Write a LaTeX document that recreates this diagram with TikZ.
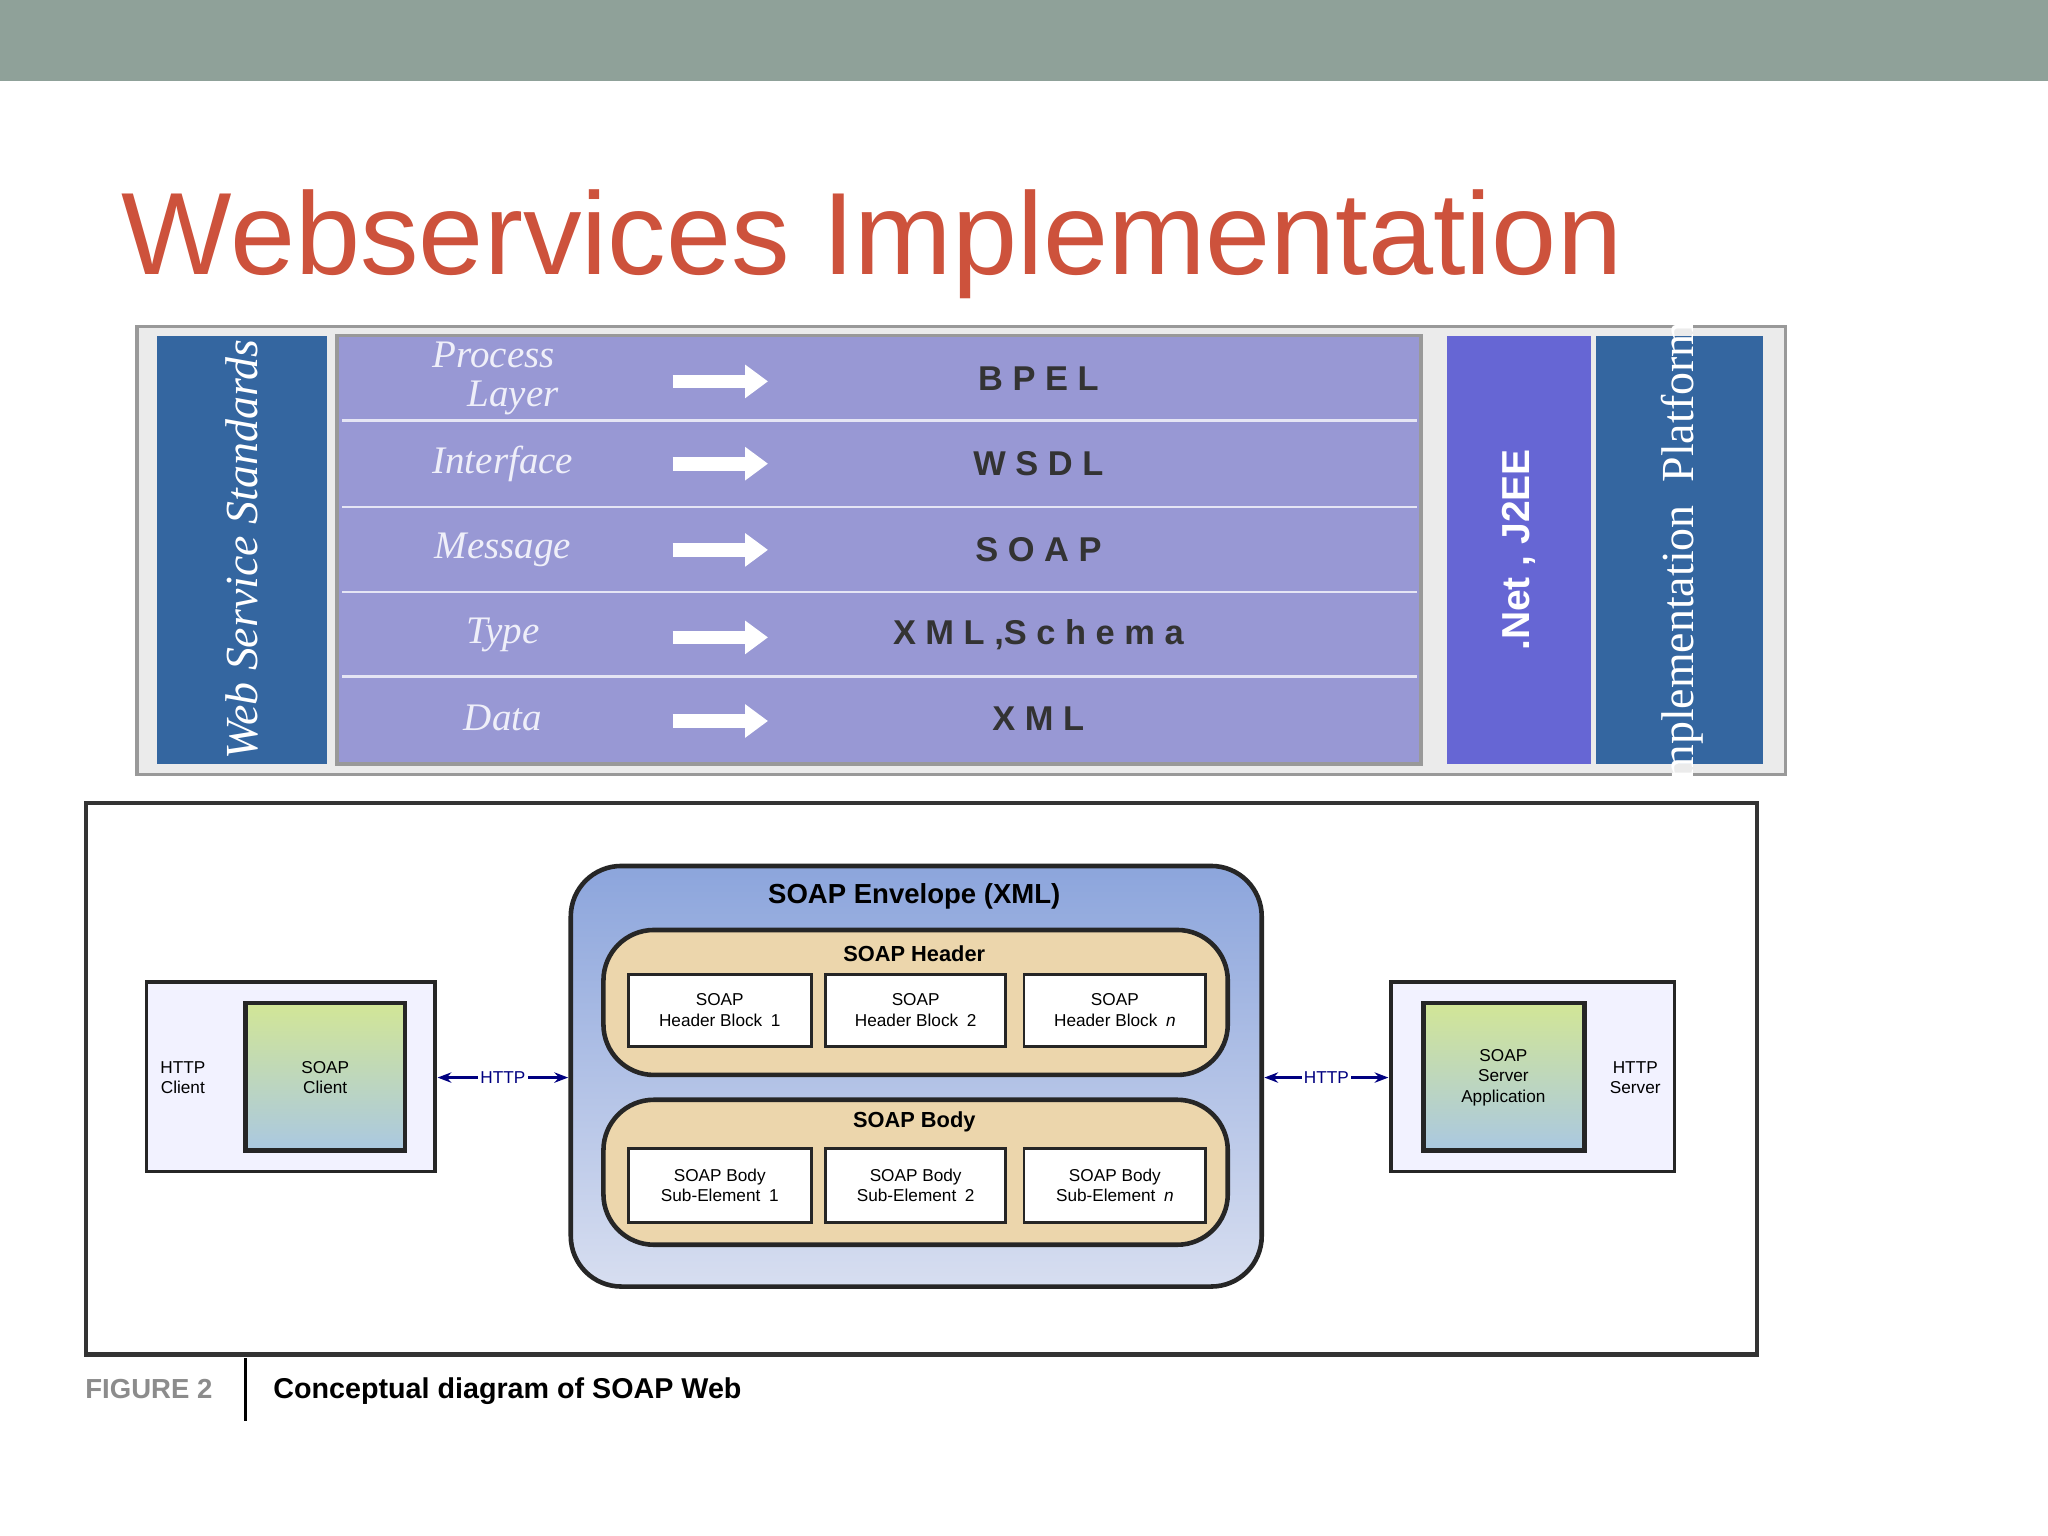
\documentclass[tikz,border=0pt]{standalone}
\usepackage{fontspec}
\setmainfont{Liberation Serif}
\newfontfamily\sansf{Liberation Sans}
\usetikzlibrary{arrows.meta}
\definecolor{bar}{RGB}{143,161,153}
\definecolor{ttl}{RGB}{205,82,60}
\definecolor{stdblue}{RGB}{52,102,160}
\definecolor{purp}{RGB}{152,152,212}
\definecolor{netp}{RGB}{102,102,212}
\definecolor{envtop}{RGB}{140,165,220}
\definecolor{envbot}{RGB}{215,222,240}
\definecolor{tan}{RGB}{236,214,172}
\definecolor{grn}{RGB}{210,230,150}
\definecolor{grnb}{RGB}{170,200,225}
\begin{document}
\begin{tikzpicture}[x=0.02cm,y=-0.02cm,
 lbl/.style={font=\fontsize{17}{17}\selectfont\itshape, text=white!85!purp},
 std/.style={font=\sansf\bfseries\fontsize{15}{15}\selectfont, text=black!80},
 warr/.style={white, line width=6pt, -{Triangle[length=10pt,width=14pt]}},
 blk/.style={draw=black!85, line width=1.2pt, fill=white, font=\sansf\fontsize{7.5}{9}\selectfont, align=center, anchor=north west},
 sm/.style={font=\sansf\fontsize{7.5}{9}\selectfont, align=center},
 hd/.style={font=\sansf\bfseries\fontsize{9.5}{11}\selectfont}]
\useasboundingbox (0,0) rectangle (1568,1176);
\fill[white] (0,0) rectangle (1568,1176);
\fill[bar] (0,0) rectangle (1568,62);
\node[anchor=base west, text=ttl, font=\sansf\fontsize{51}{51}\selectfont, inner sep=0] (title) at (93,210) {Webservices Implementation};
% upper panel
\draw[black!40, fill=white!92!black, line width=1.5pt] (105,250) rectangle (1367,593);
\fill[stdblue] (120,257) rectangle (250,585);
\node[rotate=90, text=white, font=\fontsize{20}{20}\selectfont\itshape] (wss) at (185,421) {Web Service Standards};
\draw[black!40, fill=purp, line width=1.5pt] (258,257) rectangle (1088,585);
\foreach \y in {322,388,453,518} \draw[white!75!purp, line width=1pt] (262,\y) -- (1085,\y);
\fill[netp] (1108,257) rectangle (1218,585);
\node[rotate=90, text=white, font=\sansf\bfseries\fontsize{17}{17}\selectfont] (net) at (1163,421) {.Net , J2EE};
\fill[stdblue] (1222,257) rectangle (1350,585);
\node[rotate=90, text=white, font=\fontsize{20}{20}\selectfont] (ip) at (1288,421) {Implementation\enspace Platforms};
\node[lbl, align=center, font=\fontsize{17}{17}\selectfont\itshape] (l1) at (378,290) {Process\\\quad Layer};
\node[lbl] (l2) at (385,355) {Interface};
\node[lbl] (l3) at (385,421) {Message};
\node[lbl] (l4) at (385,486) {Type};
\node[lbl] (l5) at (385,550) {Data};
\node[std] (s1) at (795,290) {B P E L};
\node[std] (s2) at (795,355) {W S D L};
\node[std] (s3) at (795,421) {S O A P};
\node[std] (s4) at (795,486) {X M L ,S c h e m a};
\node[std] (s5) at (795,550) {X M L};
\foreach \y in {292,355,421,488,552} \draw[warr] (515,\y) -- (588,\y);
% lower panel
\draw[black!80, line width=1.8pt] (66,615) rectangle (1345,1037);
\draw[black!85, line width=2pt, top color=envtop, bottom color=envbot, rounded corners=22pt] (437,663) rectangle (966,985);
\node[font=\sansf\bfseries\fontsize{12}{14}\selectfont] (env) at (700,686) {SOAP Envelope (XML)};
\draw[black!85, line width=2pt, fill=tan, rounded corners=22pt] (462,712) rectangle (940,823);
\node[hd] (hh) at (700,730) {SOAP Header};
\node[blk, minimum width=140*0.02cm, minimum height=55*0.02cm] (h1) at (480,745) {SOAP\\Header Block\enspace 1};
\node[blk, minimum width=138*0.02cm, minimum height=55*0.02cm] (h2) at (631,745) {SOAP\\Header Block\enspace 2};
\node[blk, minimum width=139*0.02cm, minimum height=55*0.02cm] (h3) at (783,745) {SOAP\\Header Block\enspace \textit{n}};
\draw[black!85, line width=2pt, fill=tan, rounded corners=22pt] (462,842) rectangle (940,953);
\node[hd] (bh) at (700,859) {SOAP Body};
\node[blk, minimum width=140*0.02cm, minimum height=57*0.02cm] (b1) at (480,878) {SOAP Body\\Sub-Element\enspace 1};
\node[blk, minimum width=138*0.02cm, minimum height=57*0.02cm] (b2) at (631,878) {SOAP Body\\Sub-Element\enspace 2};
\node[blk, minimum width=139*0.02cm, minimum height=57*0.02cm] (b3) at (783,878) {SOAP Body\\Sub-Element\enspace \textit{n}};
% client
\draw[black!85, line width=1.5pt, fill=white!95!blue] (112,752) rectangle (333,897);
\draw[black!85, line width=2pt, top color=grn, bottom color=grnb] (188,768) rectangle (310,881);
\node[sm] (hc) at (140,825) {HTTP\\Client};
\node[sm] (sc) at (249,825) {SOAP\\Client};
\coordinate (cl) at (335,825);
\coordinate (el) at (435,825);
\draw[blue!50!black, line width=1pt, {Stealth[length=6pt]}-{Stealth[length=6pt]}] (cl) -- node[fill=white, sm, inner sep=1pt] {HTTP} (el);
% server
\draw[black!85, line width=1.5pt, fill=white!95!blue] (1065,752) rectangle (1282,897);
\draw[black!85, line width=2pt, top color=grn, bottom color=grnb] (1090,768) rectangle (1213,881);
\node[sm] (ssa) at (1151,825) {SOAP\\Server\\Application};
\node[sm] (hs) at (1252,825) {HTTP\\Server};
\coordinate (er) at (968,825);
\coordinate (sr) at (1063,825);
\draw[blue!50!black, line width=1pt, {Stealth[length=6pt]}-{Stealth[length=6pt]}] (er) -- node[fill=white, sm, inner sep=1pt] {HTTP} (sr);
% caption
\node[anchor=base west, text=black!45, font=\sansf\bfseries\fontsize{12}{12}\selectfont, inner sep=0] (fig) at (65,1071) {FIGURE 2};
\draw[black, line width=1.5pt] (188,1040) -- (188,1088);
\node[anchor=base west, font=\sansf\bfseries\fontsize{12.5}{12.5}\selectfont, inner sep=0] (cap) at (209,1071) {Conceptual diagram of SOAP Web};
\end{tikzpicture}
\end{document}
